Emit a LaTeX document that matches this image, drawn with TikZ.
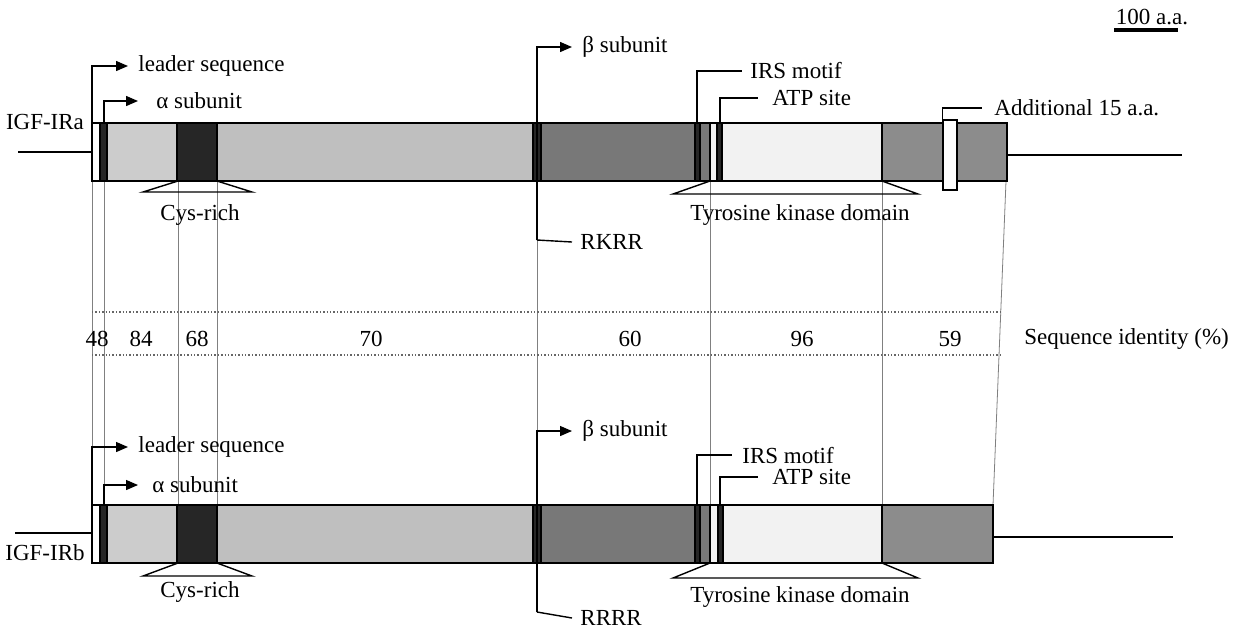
\documentclass[tikz,border=0pt]{standalone}
\usepackage{fontspec}
\setmainfont{Liberation Serif}
\usetikzlibrary{arrows.meta}
\definecolor{segLt}{gray}{0.80}
\definecolor{segMd}{gray}{0.75}
\definecolor{segDk}{gray}{0.47}
\definecolor{segKn}{gray}{0.95}
\definecolor{segCt}{gray}{0.55}
\definecolor{segBk}{gray}{0.15}
\tikzset{
  seg/.style={draw=black, line width=0.8pt, fill=#1},
  lbl/.style={font=\fontsize{11.5}{13}\selectfont, inner ysep=0pt, inner xsep=5pt, anchor=west},
  num/.style={font=\fontsize{11.5}{13}\selectfont, inner sep=0pt},
  ptr/.style={line width=0.7pt, -{Triangle[length=6pt,width=5pt]}},
  lead/.style={line width=0.7pt},
  guide/.style={gray, line width=0.4pt},
  ident/.style={black!60, line width=0.7pt, densely dotted},
}

\begin{document}
\begin{tikzpicture}[x=0.5pt,y=-0.5pt]
  \useasboundingbox (0,0) rectangle (1246,639);
  % scale bar
  \node[num] (scl) at (1152,17) {100 a.a.};
  \draw[line width=2pt] (1114,30) -- (1178,30);

  % guides between the two receptors
  \foreach \gx in {92,104,178,217,537,710,882}
    \draw[guide] (\gx,181) -- (\gx,505);
  \draw[guide] (1006,181) -- (993,505);
  \draw[ident] (92,312) -- (1003,312);
  \draw[ident] (92,355) -- (1003,355);
  \node[num] (n48) at (97,339) {48};
  \node[num] (n84) at (141,339) {84};
  \node[num] (n68) at (197,339) {68};
  \node[num] (n70) at (371,339) {70};
  \node[num] (n60) at (630,339) {60};
  \node[num] (n96) at (802,339) {96};
  \node[num] (n59) at (950,339) {59};
  \node[lbl, inner xsep=0pt] (sid) at (1024,339) {Sequence identity (\%)};

  % IGF-IRa
  \draw[line width=0.8pt] (18,152) -- (92,152);
  \draw[line width=0.8pt] (1007,155) -- (1182,155);
  \node[num] (irA) at (45,122) {IGF-IRa};
  \draw[seg=white] (92,123) rectangle (100,181);
  \draw[seg=segBk] (100,123) rectangle (107,181);
  \draw[seg=segLt] (107,123) rectangle (177,181);
  \draw[seg=segBk] (177,123) rectangle (217,181);
  \draw[seg=segMd] (217,123) rectangle (533,181);
  \draw[seg=segBk] (533,123) rectangle (541,181);
  \draw[seg=segDk] (541,123) rectangle (695,181);
  \draw[seg=segBk] (695,123) rectangle (700,181);
  \draw[seg=segDk] (700,123) rectangle (710,181);
  \draw[seg=segKn] (710,123) rectangle (882,181);
  \draw[seg=segBk] (717,123) rectangle (722,181);
  \draw[seg=segCt] (882,123) rectangle (1007,181);
  \node[draw, line width=0.8pt, fill=white, minimum width=7pt, minimum height=35pt, inner sep=0pt] (insA) at (950,155) {};
  \draw[lead] (143,192) -- (178,181) -- (217,181) -- (252,192) -- cycle;
  \draw[lead] (673,194) -- (710,181) -- (882,181) -- (918,194) -- cycle;
  \node[num] (cysA) at (200,215) {Cys-rich};
  \node[num] (tkA) at (800,215) {Tyrosine kinase domain};

  \node[lbl] (ldrA) at (128,66) {leader sequence};
  \node[lbl, inner xsep=9pt] (alpA) at (138,101) {α subunit};
  \node[lbl] (betA) at (572,47) {β subunit};
  \node[lbl, inner xsep=4pt] (rkrA) at (572,242) {RKRR};
  \node[lbl, inner xsep=4pt] (irsA) at (742,71) {IRS motif};
  \node[lbl, inner xsep=7pt] (atpA) at (758,98) {ATP site};
  \node[lbl, inner xsep=6pt] (addA) at (982,108) {Additional 15 a.a.};
  \coordinate (lsA) at (92,181);
  \coordinate (asA) at (104,123);
  \coordinate (rkA) at (537,240);
  \coordinate (imA) at (697,123);
  \coordinate (apA) at (720,123);
  \draw[ptr] (lsA) |- (ldrA.west);
  \draw[ptr] (asA) |- (alpA.west);
  \draw[ptr] (rkA) |- (betA.west);
  \draw[lead] (rkA) -- (rkrA.west);
  \draw[lead] (imA) |- (irsA.west);
  \draw[lead] (apA) |- (atpA.west);
  \draw[lead] (insA.north west) |- (addA.west);

  % IGF-IRb
  \draw[line width=0.8pt] (15,533) -- (92,533);
  \draw[line width=0.8pt] (993,537) -- (1173,537);
  \node[num] (irB) at (45,553) {IGF-IRb};
  \draw[seg=white] (92,505) rectangle (100,563);
  \draw[seg=segBk] (100,505) rectangle (107,563);
  \draw[seg=segLt] (107,505) rectangle (177,563);
  \draw[seg=segBk] (177,505) rectangle (217,563);
  \draw[seg=segMd] (217,505) rectangle (533,563);
  \draw[seg=segBk] (533,505) rectangle (541,563);
  \draw[seg=segDk] (541,505) rectangle (695,563);
  \draw[seg=segBk] (695,505) rectangle (700,563);
  \draw[seg=segDk] (700,505) rectangle (710,563);
  \draw[seg=segKn] (710,505) rectangle (882,563);
  \draw[seg=segBk] (718,505) rectangle (723,563);
  \draw[seg=segCt] (882,505) rectangle (993,563);
  \draw[lead] (143,576) -- (178,563) -- (217,563) -- (252,576) -- cycle;
  \draw[lead] (673,578) -- (710,563) -- (882,563) -- (918,578) -- cycle;
  \node[num] (cysB) at (200,592) {Cys-rich};
  \node[num] (tkB) at (800,597) {Tyrosine kinase domain};

  \node[lbl] (ldrB) at (128,447) {leader sequence};
  \node[lbl, inner xsep=7pt] (alpB) at (138,485) {α subunit};
  \node[lbl] (betB) at (572,431) {β subunit};
  \node[lbl, inner xsep=4pt] (rrrB) at (572,618) {RRRR};
  \node[lbl] (irsB) at (732,455) {IRS motif};
  \node[lbl, inner xsep=7pt] (atpB) at (758,477) {ATP site};
  \coordinate (lsB) at (92,563);
  \coordinate (asB) at (104,505);
  \coordinate (rkB) at (537,612);
  \coordinate (imB) at (697,505);
  \coordinate (apB) at (720,505);
  \draw[ptr] (lsB) |- (ldrB.west);
  \draw[ptr] (asB) |- (alpB.west);
  \draw[ptr] (rkB) |- (betB.west);
  \draw[lead] (rkB) -- (rrrB.west);
  \draw[lead] (imB) |- (irsB.west);
  \draw[lead] (apB) |- (atpB.west);
\end{tikzpicture}
\end{document}
